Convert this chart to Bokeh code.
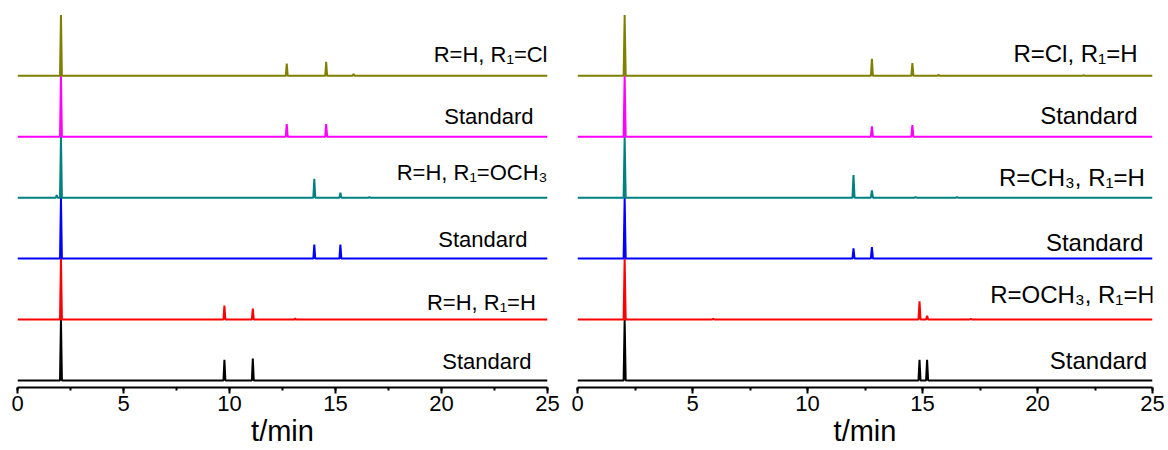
from bokeh.plotting import figure
from bokeh.models import Range1d, SingleIntervalTicker
from bokeh.layouts import row
from bokeh.core.properties import value
from bokeh.embed import file_html
from bokeh.resources import INLINE

# ---------------- data ----------------
x_ticks = [0, 5, 10, 15, 20, 25]
colors = ["#000000", "#FF0000", "#0000FF", "#008080", "#FF00FF", "#808000"]  # bottom -> top

# Left panel (bottom -> top)
left_labels = ["Standard", "R=H, R\u2081=H", "Standard", "R=H, R\u2081=OCH\u2083", "Standard", "R=H, R\u2081=Cl"]
left_peak_t = [
    [2.05, 9.76, 11.10],
    [2.05, 9.76, 11.10, 13.10],
    [2.05, 14.00, 15.23],
    [1.85, 2.05, 14.00, 15.23, 16.60],
    [2.05, 12.70, 14.56],
    [2.05, 12.70, 14.56, 15.85],
]
left_peak_h = [
    [1.00, 0.34, 0.36],
    [1.00, 0.23, 0.18, 0.02],
    [1.00, 0.23, 0.23],
    [0.04, 1.00, 0.31, 0.08, 0.01],
    [1.00, 0.21, 0.21],
    [1.00, 0.20, 0.23, 0.03],
]

# Right panel (bottom -> top)
right_labels = ["Standard", "R=OCH\u2083, R\u2081=H", "Standard", "R=CH\u2083, R\u2081=H", "Standard", "R=Cl, R\u2081=H"]
right_peak_t = [
    [2.05, 14.87, 15.20],
    [2.05, 5.90, 14.87, 15.20, 17.10],
    [2.05, 12.00, 12.80],
    [2.05, 12.00, 12.80, 14.70, 16.50],
    [2.05, 12.80, 14.56],
    [2.05, 12.80, 14.56, 15.70, 22.00],
]
right_peak_h = [
    [1.00, 0.34, 0.34],
    [1.00, 0.01, 0.30, 0.06, 0.01],
    [1.00, 0.17, 0.19],
    [1.00, 0.37, 0.12, 0.01, 0.01],
    [1.00, 0.17, 0.19],
    [1.00, 0.28, 0.21, 0.02, 0.01],
]

FONT = "Liberation Sans"
H = 449
PX_PER_UNIT = 60.6   # vertical screen pixels per trace spacing
TEXT_SHIFT = 9       # extra upward pixels so the label baseline lands where intended


def trace(ts, hs, off, w=0.045):
    xs, ys = [0.0], [off]
    for t, h in sorted(zip(ts, hs)):
        xs += [t - w, t, t + w]
        ys += [off, off + h, off]
    xs.append(25.0)
    ys.append(off)
    return xs, ys


def panel(labels, peak_t, peak_h, label_x, label_dy, label_size, width, bl, br):
    p = figure(width=width, height=H, output_backend="svg", toolbar_location=None,
               x_range=Range1d(0, 25), y_range=Range1d(-0.116, 6.023),
               y_axis_location=None, min_border_left=bl, min_border_right=br,
               min_border_top=13, min_border_bottom=0)
    p.outline_line_color = None
    p.xgrid.visible = False
    p.ygrid.visible = False
    for i, (ts, hs) in enumerate(zip(peak_t, peak_h)):
        xs, ys = trace(ts, hs, float(i))
        p.line(xs, ys, line_color=colors[i], line_width=2, line_join="bevel")
    ly = [i + (d + TEXT_SHIFT) / PX_PER_UNIT for i, d in enumerate(label_dy)]
    p.text(x=label_x, y=ly, text=labels, text_align="right", text_baseline="alphabetic",
           text_font=value(FONT), text_font_size=label_size, text_color="black")
    ax = p.xaxis[0]
    ax.ticker = SingleIntervalTicker(interval=5, num_minor_ticks=2)
    ax.axis_line_width = 2
    ax.axis_line_color = "black"
    ax.major_tick_line_width = 2
    ax.minor_tick_line_width = 2
    ax.major_tick_out = 6
    ax.major_tick_in = 0
    ax.minor_tick_out = 3
    ax.minor_tick_in = 0
    ax.major_label_text_font = FONT
    ax.major_label_text_font_size = "22px"
    ax.major_label_text_color = "black"
    ax.major_label_standoff = 2
    ax.axis_label = "t/min"
    ax.axis_label_text_font = FONT
    ax.axis_label_text_font_size = "29px"
    ax.axis_label_text_font_style = "normal"
    ax.axis_label_text_color = "black"
    ax.axis_label_standoff = 1
    return p


left = panel(left_labels, left_peak_t, left_peak_h,
             label_x=[24.25, 24.45, 24.06, 25.0, 24.34, 25.0],
             label_dy=[10, 8, 10, 16, 11, 12], label_size="22px",
             width=561, bl=17, br=14)
right = panel(right_labels, right_peak_t, right_peak_h,
              label_x=[24.77, 25.1, 24.6, 24.67, 24.35, 24.35],
              label_dy=[11, 16, 7, 11, 12, 13], label_size="24px",
              width=605, bl=16, br=14)

layout = row(left, right, spacing=0)
open("out.html", "w").write(file_html(layout, INLINE))
